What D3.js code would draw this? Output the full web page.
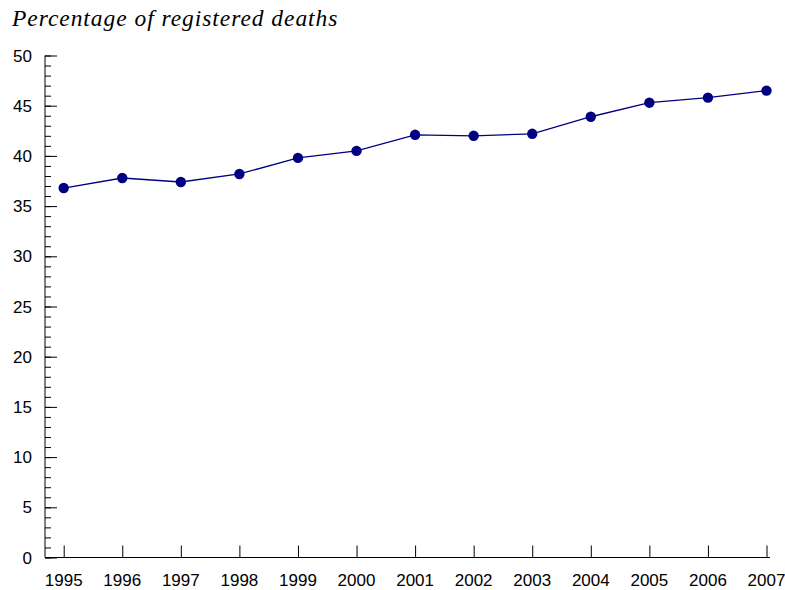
<!DOCTYPE html>
<html>
<head>
<meta charset="utf-8">
<script src="https://cdn.jsdelivr.net/npm/d3@7"></script>
<style>
  body { margin: 0; background: #fff; }
  svg { display: block; }
</style>
</head>
<body>
<svg id="chart" width="785" height="590"></svg>
<script>
// chart data
const years = [1995, 1996, 1997, 1998, 1999, 2000, 2001, 2002, 2003, 2004, 2005, 2006, 2007];
const deaths = [36.8, 37.8, 37.4, 38.2, 39.8, 40.5, 42.1, 42.0, 42.2, 43.9, 45.3, 45.8, 46.5];
const yTicks = [0, 5, 10, 15, 20, 25, 30, 35, 40, 45, 50];
const title = "Percentage of registered deaths";

const svg = d3.select("#chart");

// Scales
const x = d3.scalePoint()
  .domain(years)
  .range([63.7, 766.5]);

const y = d3.scaleLinear()
  .domain([0, 50])
  .range([557.5, 55.5]);

// Title
svg.append("text")
  .attr("x", 12)
  .attr("y", 26)
  .attr("font-family", "'Liberation Serif', 'Times New Roman', serif")
  .attr("font-style", "italic")
  .attr("font-size", 23.5)
  .attr("letter-spacing", 0.95)
  .attr("fill", "#000")
  .text(title);

// Y axis: ticks point inward (to the right)
const yAxis = svg.append("g")
  .attr("transform", "translate(45,0)");

yAxis.call(d3.axisRight(y)
    .tickValues(d3.range(0, 51, 1))
    .tickSize(6)
    .tickFormat(""))
  .call(g => g.select(".domain").remove());

yAxis.call(g => g.append("g")
  .call(d3.axisRight(y).tickValues(yTicks).tickSize(12).tickFormat(""))
  .call(a => a.select(".domain").remove()));

yAxis.append("line")
  .attr("x1", 0).attr("x2", 0)
  .attr("y1", y(0)).attr("y2", y(50))
  .attr("stroke", "#000");

yAxis.selectAll("line").attr("stroke", "#000");

yAxis.selectAll(".ylab")
  .data(yTicks)
  .join("text")
  .attr("class", "ylab")
  .attr("x", -13)
  .attr("y", d => y(d))
  .attr("dy", "0.36em")
  .attr("text-anchor", "end")
  .attr("font-family", "'Liberation Sans', Arial, sans-serif")
  .attr("font-size", 17)
  .attr("fill", "#000")
  .text(d => d);

// X axis: ticks point upward
const xAxis = svg.append("g")
  .attr("transform", `translate(0,${y(0)})`);

xAxis.call(d3.axisTop(x).tickSize(12).tickFormat(""))
  .call(g => g.select(".domain").remove());

xAxis.append("line")
  .attr("x1", 45).attr("x2", 770)
  .attr("y1", 0).attr("y2", 0)
  .attr("stroke", "#000");

xAxis.selectAll("line").attr("stroke", "#000");

xAxis.selectAll(".xlab")
  .data(years)
  .join("text")
  .attr("class", "xlab")
  .attr("x", d => x(d))
  .attr("y", 28)
  .attr("text-anchor", "middle")
  .attr("font-family", "'Liberation Sans', Arial, sans-serif")
  .attr("font-size", 17)
  .attr("fill", "#000")
  .text(d => d);

// Line
const line = d3.line()
  .x((d, i) => x(years[i]))
  .y(d => y(d));

svg.append("path")
  .datum(deaths)
  .attr("fill", "none")
  .attr("stroke", "#000080")
  .attr("stroke-width", 1.3)
  .attr("d", line);

// Points
svg.selectAll(".dot")
  .data(deaths)
  .join("circle")
  .attr("class", "dot")
  .attr("cx", (d, i) => x(years[i]))
  .attr("cy", d => y(d))
  .attr("r", 5.2)
  .attr("fill", "#000080");
</script>
</body>
</html>
